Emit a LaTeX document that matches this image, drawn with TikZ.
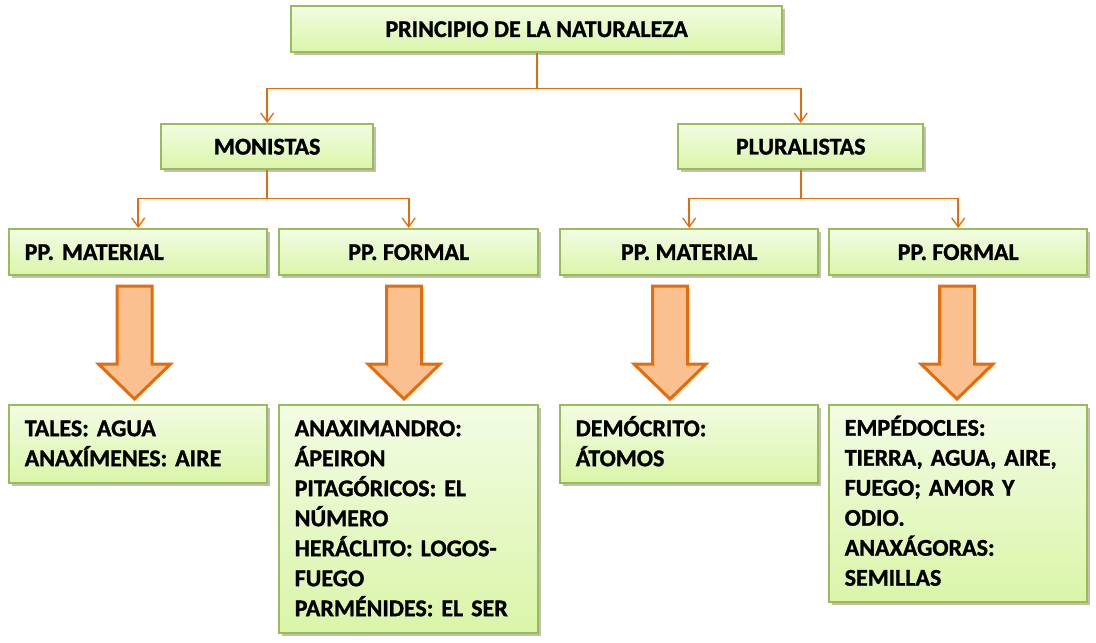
\documentclass[tikz,border=0pt]{standalone}
\usepackage{fontspec}
\setmainfont{Carlito}[BoldFeatures={FakeBold=1.2}]
\usetikzlibrary{shadows,arrows.meta,calc}
\definecolor{boxborder}{HTML}{9BBB59}
\definecolor{boxtop}{HTML}{F2FCE3}
\definecolor{boxbot}{HTML}{DAF5A8}
\definecolor{conn}{HTML}{E46C0A}
\definecolor{fatfill}{HTML}{FAC090}
\frenchspacing
\tikzset{
  box/.style={draw=boxborder, line width=2.4pt, top color=boxtop, bottom color=boxbot,
    drop shadow={shadow xshift=2.5pt, shadow yshift=-2.5pt, opacity=0.25, fill=black},
    font=\bfseries\fontsize{24}{30}\selectfont, inner sep=0pt, anchor=north west},
  txtbox/.style={box, align=left, inner xsep=15.5pt,
    execute at begin node={\rule{0pt}{22pt}},
    execute at end node={\rule[-8pt]{0pt}{8pt}}},
  connector/.style={draw=conn, line width=1.8pt, -{Straight Barb[length=9pt,width=13pt,line width=1.3pt]}},
  fatstyle/.style={draw=conn, line width=3pt, fill=fatfill, line join=miter},
  fatarrow/.pic={\draw[fatstyle] (-17.5,0) -- (17.5,0) -- (17.5,78) -- (36,78) -- (0,113) -- (-36,78) -- (-17.5,78) -- cycle;}
}
\begin{document}
\begin{tikzpicture}[x=1pt,y=-1pt]
\useasboundingbox (0,0) rectangle (1096,643);
% level 0
\node[box, minimum width=491pt, minimum height=46pt] (top) at (290,5) {PRINCIPIO DE LA NATURALEZA};
% level 1
\node[box, minimum width=212pt, minimum height=45pt] (mon) at (160,123) {MONISTAS};
\node[box, minimum width=245pt, minimum height=45pt] (plu) at (677,123) {PLURALISTAS};
% level 2
\node[box, minimum width=258pt, minimum height=46pt, text width=227pt, align=left, inner xsep=15.5pt] (pm1) at (8,228) {PP. MATERIAL};
\node[box, minimum width=259pt, minimum height=46pt] (pf1) at (278,228) {PP. FORMAL};
\node[box, minimum width=258pt, minimum height=46pt] (pm2) at (559,228) {PP. MATERIAL};
\node[box, minimum width=258pt, minimum height=46pt] (pf2) at (828,228) {PP. FORMAL};
% level 3
\node[txtbox, minimum width=258pt, minimum height=78pt, text width=227pt] (b1) at (8,404) {TALES: AGUA\\ANAXÍMENES: AIRE};
\node[txtbox, minimum width=259pt, minimum height=228pt, text width=228pt] (b2) at (278,404) {ANAXIMANDRO:\\ÁPEIRON\\PITAGÓRICOS: EL\\NÚMERO\\HERÁCLITO: LOGOS-\\FUEGO\\PARMÉNIDES: EL SER};
\node[txtbox, minimum width=258pt, minimum height=78pt, text width=227pt] (b3) at (559,404) {DEMÓCRITO:\\ÁTOMOS};
\node[txtbox, minimum width=258pt, minimum height=197pt, text width=227pt] (b4) at (828,404) {EMPÉDOCLES:\\TIERRA, AGUA, AIRE,\\FUEGO; AMOR Y\\ODIO.\\ANAXÁGORAS:\\SEMILLAS};
% connectors
\draw[connector] (top.south) -- ++(0,35) -| (mon.north);
\draw[connector] (top.south) -- ++(0,35) -| (plu.north);
\draw[connector] (mon.south) -- ++(0,28) -| (pm1.north);
\draw[connector] (mon.south) -- ++(0,28) -| (pf1.north);
\draw[connector] (plu.south) -- ++(0,28) -| (pm2.north);
\draw[connector] (plu.south) -- ++(0,28) -| (pf2.north);
% fat arrows
\pic at (134.5,286) {fatarrow};
\pic at (404,286) {fatarrow};
\pic at (670,286) {fatarrow};
\pic at (957,286) {fatarrow};
\end{tikzpicture}
\end{document}
